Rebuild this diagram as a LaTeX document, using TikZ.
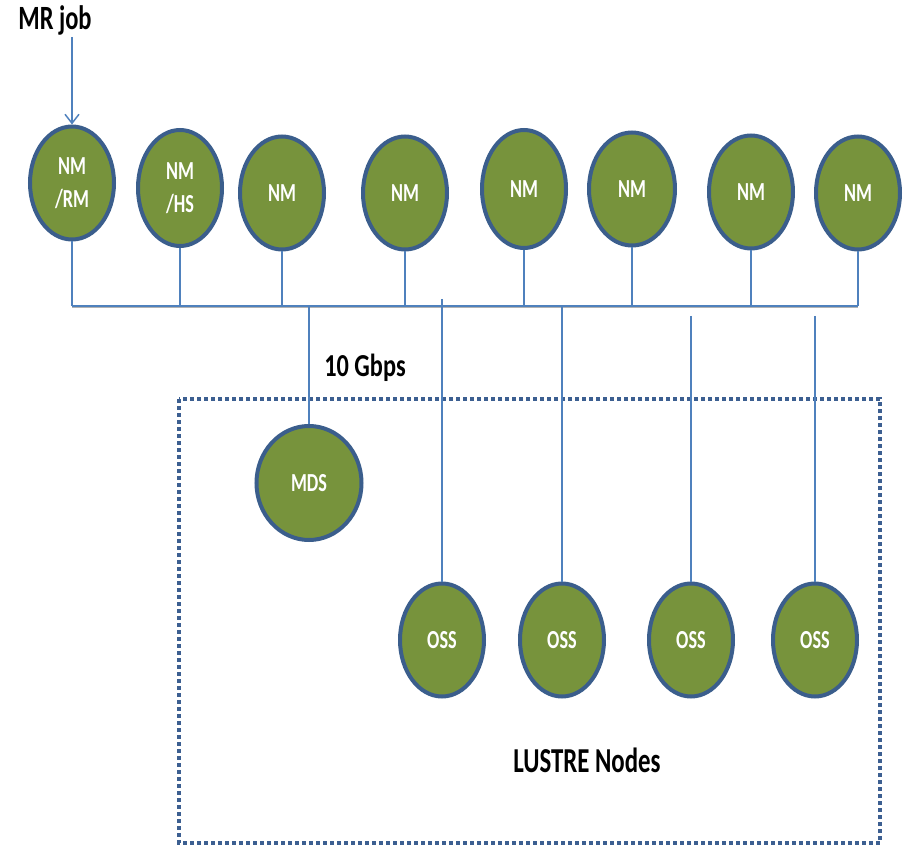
\documentclass[tikz,border=0pt]{standalone}
\usepackage{fontspec}
\usepackage{graphicx}
\setmainfont{Carlito}
\usetikzlibrary{shapes.geometric,arrows.meta}
\definecolor{nodefill}{RGB}{119,147,60}
\definecolor{nodeedge}{RGB}{59,94,140}
\definecolor{wire}{RGB}{79,129,189}
\definecolor{boxedge}{RGB}{60,95,145}
\newcommand{\narrowtext}[2][0.7]{\scalebox{#1}[1]{#2}}
\tikzset{
  srv/.style={ellipse, draw=nodeedge, line width=4pt, fill=nodefill,
    inner sep=0pt, minimum width=84pt, minimum height=113pt,
    text=white, align=center, font=\fontsize{26}{33}\selectfont\bfseries},
  wireline/.style={draw=wire, line width=2pt},
  label/.style={inner sep=0pt, text=black, font=\bfseries},
}
\begin{document}
\begin{tikzpicture}[x=1pt,y=-1pt]
\useasboundingbox (0,0) rectangle (906,845);

% LUSTRE enclosure
\draw[boxedge, line width=3.5pt, dash pattern=on 3.6pt off 3.4pt]
  (179,399) rectangle (880,843);

% compute nodes
\node[srv] (n1) at (72,183) {\narrowtext{NM}\\\narrowtext{/RM}};
\node[srv, minimum height=116pt] (n2) at (180,188) {\narrowtext{NM}\\\narrowtext{/HS}};
\node[srv] (n3) at (282,193) {\narrowtext{NM}};
\node[srv] (n4) at (405,193) {\narrowtext{NM}};
\node[srv, minimum height=118pt] (n5) at (524,189) {\narrowtext{NM}};
\node[srv, minimum width=86pt] (n6) at (632,189) {\narrowtext{NM}};
\node[srv] (n7) at (751,192) {\narrowtext{NM}};
\node[srv] (n8) at (858,193) {\narrowtext{NM}};

% storage nodes
\node[srv, minimum width=105pt, minimum height=114pt] (mds) at (309,483) {\narrowtext{MDS}};
\node[srv] (o1) at (442,640) {\narrowtext{OSS}};
\node[srv] (o2) at (562,640) {\narrowtext{OSS}};
\node[srv] (o3) at (691,640) {\narrowtext{OSS}};
\node[srv] (o4) at (815,640) {\narrowtext{OSS}};

% labels
\node[label, font=\fontsize{34}{38}\selectfont\bfseries] (job) at (55,20) {\narrowtext[0.72]{MR job}};
\node[label, font=\fontsize{32}{36}\selectfont\bfseries] (rate) at (365,368) {\narrowtext[0.76]{10 Gbps}};
\node[label, font=\fontsize{35}{39}\selectfont\bfseries] (lustre) at (587,760) {\narrowtext[0.71]{LUSTRE Nodes}};

% bus
\coordinate (bus) at (0,306);
\coordinate (t1) at (442,299);
\coordinate (t3) at (691,316);
\coordinate (t4) at (815,316);
\draw[gray!60, line width=1pt] ([yshift=-2pt]n1.south |- bus) -- ([yshift=-2pt]n8.south |- bus);
\draw[wireline] (n1.south |- bus) -- (n8.south |- bus);
\foreach \n in {n1,n2,n3,n4,n5,n6,n7,n8}
  \draw[wireline] (\n.south) -- (\n.south |- bus);
\draw[wireline] (mds.north) -- (mds.north |- bus);
\draw[wireline] (o2.north) -- (o2.north |- bus);
\draw[wireline] (t1) -- (o1.north);
\draw[wireline] (t3) -- (o3.north);
\draw[wireline] (t4) -- (o4.north);

% job submission
\coordinate (jobstart) at (n1.north |- 0,37);
\draw[wire, line width=1.5pt, -{Straight Barb[length=9pt,width=14pt]}] (jobstart) -- (n1.north);
\end{tikzpicture}
\end{document}
